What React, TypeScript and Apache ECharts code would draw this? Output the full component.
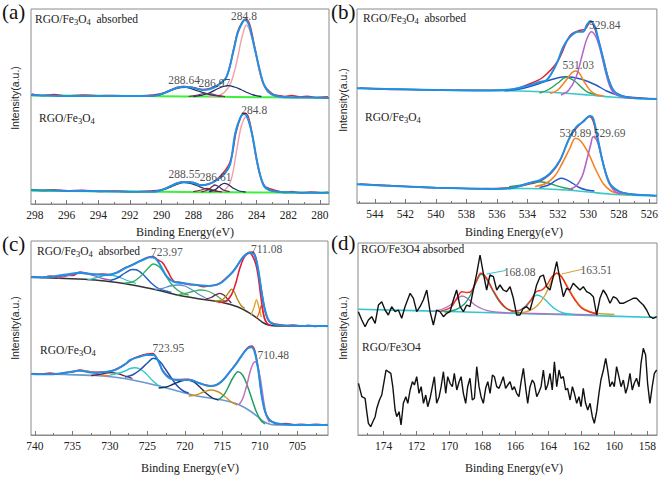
import React, { useEffect, useRef } from "react";
import * as echarts from "echarts";

type P = [number, number];

// ---------- tick labels ----------
const aTicks = [280, 282, 284, 286, 288, 290, 292, 294, 296, 298];
const aMinor = [281, 283, 285, 287, 289, 291, 293, 295, 297];
const bTicks = [526, 528, 530, 532, 534, 536, 538, 540, 542, 544];
const bMinor = [527, 529, 531, 533, 535, 537, 539, 541, 543, 545];
const cTicks = [705, 710, 715, 720, 725, 730, 735, 740];
const cMinor = [702.5, 707.5, 712.5, 717.5, 722.5, 727.5, 732.5, 737.5];
const dTicks = [158, 160, 162, 164, 166, 168, 170, 172, 174];
const dMinor = [159, 161, 163, 165, 167, 169, 171, 173, 175];

// ---------- (a) C 1s ----------
const aUpRaw: P[] = [[298.2,110],[297.5,108.5],[296.8,109.5],[296,108],[295,109],[294,108.3],[293,108.5],[292,107.8],[291,108.5],[290,110.5],[289,116.8],[288.6,117.5],[288,116.5],[287.4,114.5],[286.5,118.5],[285.9,127.5],[285.45,155],[285.2,172],[284.9,182],[284.7,185],[284.45,180],[284.1,155],[283.6,121],[283,110],[282.6,108.5],[282.2,107.5],[281.8,108.5],[281.2,107],[280.8,107.8],[280.3,106.5],[279.5,107.3]];
const aUpEnv: P[] = [[298.25,109],[296,108],[292,108],[290.5,108.3],[290,110],[289.5,113.3],[289,116.3],[288.64,117.3],[288.2,116.7],[287.8,115.3],[287.4,114],[287,114.7],[286.5,118],[286.3,120.7],[285.9,127],[285.45,154],[285.2,170.7],[284.95,180],[284.75,184],[284.5,180],[284.3,168],[284.1,154],[283.85,137],[283.57,120.7],[283.3,113],[282.94,109],[282.5,107.3],[282,106.7],[280,106.3],[279.43,105.9]];
const aUpMain: P[] = [[287,107.3],[286.3,109],[285.8,116],[285.5,127],[285.2,146],[285.0,162],[284.8,174],[284.65,179],[284.5,176],[284.25,163],[284.05,150],[283.8,132],[283.5,117],[283.1,109.5],[282.6,107],[282,106.6]];
const aUpC1: P[] = [[290.8,107.8],[290.2,108.8],[289.7,111.5],[289.2,114.8],[288.8,116.5],[288.5,116.6],[288.1,115.2],[287.7,113],[287.2,110.5],[286.7,108.6],[286.2,107.6]];
const aUpC2: P[] = [[288,107.5],[287.5,108.6],[287,111],[286.5,115],[286.1,117.5],[285.8,118.3],[285.4,117],[285,114.5],[284.6,111.5],[284.2,109],[283.7,107.5]];
const aUpC3: P[] = [[288.3,107.5],[287.8,108.6],[287.3,110.5],[286.9,110.2],[286.5,108.6],[286,107.4]];
const aUpBg: P[] = [[298.25,108.5],[292,108],[290,107.8],[287,107.4],[284,106.8],[282,106.5],[279.43,106.2]];

const aLowRaw: P[] = [[298.2,14.5],[297.5,13.5],[296.8,14.2],[296,13],[295,13.8],[294,12.6],[293,13],[292,12.2],[291,12.8],[290,14.3],[289,21],[288.5,22.3],[288,21.5],[287.5,19],[287,20.3],[286.5,24.5],[285.7,41],[285.3,72],[285.0,87],[284.8,91],[284.55,88],[284.3,71],[283.9,36],[283.5,18],[283,14.5],[282.6,12.8],[282.2,11.5],[281.8,12.5],[281.2,11],[280.6,12],[280,11.2],[279.5,11.8]];
const aLowEnv: P[] = [[298.25,14],[296,13.3],[292,12.3],[290.5,12.3],[290,14],[289.5,17.3],[289,20.7],[288.55,22],[288,21.3],[287.5,18.7],[287,20],[286.5,24],[286,30.7],[285.67,40],[285.35,70.7],[285.05,85.7],[284.8,90],[284.6,87.3],[284.3,70.7],[283.9,37.3],[283.57,19],[283.2,14],[282.5,12],[280,11.3],[279.43,11.3]];
const aLowMain: P[] = [[286.5,12],[286,14],[285.6,25],[285.3,50],[285,76],[284.8,85],[284.7,87],[284.55,85],[284.3,70],[283.9,37],[283.57,19],[283.2,13.5],[282.8,12]];
const aLowC1: P[] = [[290.6,12.5],[290,13.8],[289.5,16.5],[289,19.8],[288.6,21.3],[288.2,20.6],[287.8,18.5],[287.3,15.5],[286.8,13.3],[286.2,12.2]];
const aLowC2: P[] = [[287,12.2],[286.6,14.5],[286.3,18.5],[286.05,20.7],[285.8,19.5],[285.5,16],[285.1,13],[284.7,12]];
const aLowC3: P[] = [[287.5,12.2],[287.1,14],[286.8,17.5],[286.65,19],[286.4,17.5],[286.1,14],[285.7,12.3]];
const aLowC4: P[] = [[288,12.3],[287.5,14],[287.15,15.7],[286.8,14.2],[286.4,12.3]];
const aLowBg: P[] = [[298.25,13.2],[292,12.4],[290,12.2],[287,11.8],[284,11.5],[282,11.3],[279.43,11.2]];

const aPeakTexts = ["284.8", "288.64", "286.97", "284.8", "288.55", "286.61"];
const aPeakPos: P[] = [[284.8,188],[288.58,124.3],[286.67,120.7],[284.15,94],[288.56,30],[286.59,27.3]];

// ---------- (b) O 1s ----------
const bUpRaw: P[] = [[545,115],[543,113.5],[541,113.3],[539,112.8],[537,112.7],[535,113.5],[534,118.3],[533,125.5],[532,142],[531.2,167.5],[530.6,172.5],[530.2,174],[529.85,181.5],[529.4,166],[529,143],[528.6,121],[528.2,110],[527.6,106.5],[527,105.5],[526,104.3],[525.6,104]];
const bUpEnv: P[] = [[545.18,114.7],[542,113.7],[540,113],[537,112.5],[536,112.7],[535,113.7],[534.67,114.7],[533.8,118],[533.2,121],[532.72,123],[532.07,139.7],[531.64,156.3],[531.2,166.3],[530.66,171.3],[530.33,171.3],[530.1,178],[529.86,182],[529.57,176.3],[529.36,164.7],[529.03,144.7],[528.7,124.7],[528.38,113],[527.95,108],[527.3,105.3],[525.5,104]];
const bUpPurple: P[] = [[531.8,108],[531.3,112.5],[530.8,126],[530.4,148],[530.1,164],[529.8,171.3],[529.5,166],[529.2,152],[528.9,133],[528.6,117],[528.3,109.5],[527.8,106],[527.2,105]];
const bUpOrange: P[] = [[532.5,109.5],[532,113],[531.5,122],[531.1,130],[530.85,132],[530.6,130],[530.3,122],[529.9,113],[529.5,108.5],[529,107]];
const bUpGreen: P[] = [[533.2,110],[532.6,113.5],[532,120],[531.45,125.7],[530.9,122],[530.4,115],[530,110.5],[529.5,108.5]];
const bUpBlue: P[] = [[535.5,112.3],[534.5,114],[533.5,118],[532.5,123],[531.5,126.3],[530.5,124],[529.5,118],[528.8,112],[528,107.5],[527.3,105.5],[526.5,104.5]];
const bUpBg: P[] = [[545.18,114.7],[540,113],[536,112.3],[534,111.8],[532,110.3],[530,108],[528.5,106],[527,104.7],[525.5,104]];

const bLowRaw: P[] = [[545,19],[543,17.5],[541,15.8],[539,15],[537,14.2],[535,15.5],[534,18.5],[533,23],[532,38.5],[531.2,66],[530.5,79.5],[529.9,86.5],[529.4,64],[529,38],[528.5,17],[528,11.5],[527,8.5],[526,7.6],[525.6,7.2]];
const bLowEnv: P[] = [[545.18,18.7],[542,16.5],[540,15.3],[537,14.3],[536,14],[535,15],[534.67,16.3],[533.8,20.3],[533.15,23],[532.5,29.7],[531.85,43],[531.3,63],[530.77,76.3],[530.33,81.3],[529.9,87],[529.68,84.7],[529.36,63],[529.03,39.7],[528.6,19.7],[527.95,11.3],[527.3,9],[525.5,7.3]];
const bLowOrange: P[] = [[533.5,16.5],[532.8,19.5],[532.2,27],[531.7,40],[531.2,55],[530.85,64.7],[530.5,62],[530,50],[529.5,33],[529,19],[528.5,12],[528,9.5],[527.3,8.5]];
const bLowPurple: P[] = [[531.3,13.5],[530.8,17],[530.4,27],[530.1,43],[529.85,58],[529.68,66.3],[529.45,63],[529.2,50],[528.9,32],[528.6,18.5],[528.2,11],[527.8,9]];
const bLowBlue: P[] = [[533.2,15.5],[532.6,18],[532.15,22.3],[531.8,24.7],[531.45,23.3],[531,19.5],[530.6,15.5],[530.1,13],[529.6,12]];
const bLowGreen: P[] = [[535.2,16.2],[534.6,17.5],[534,19.3],[533.3,21.3],[532.7,20.3],[532.2,17.8],[531.6,15.2],[531,13.5]];
const bLowBg: P[] = [[545.18,18.7],[540,15.3],[536,14],[534.5,14.5],[533,14.3],[531.5,13],[530,11],[528.5,8.8],[527,7.8],[525.5,7.3]];

const bPeakTexts = ["529.84", "531.03", "530.89", "529.69"];
const bPeakPos: P[] = [[528.92,178],[530.66,138],[530.85,70.3],[528.6,70.3]];

// ---------- (c) Fe 2p ----------
const cUpRaw: P[] = [[740.3,158.5],[739,157.5],[738,159],[737,158],[736,160],[735,159.5],[734,163],[733,161.5],[732,160.5],[731,161],[730,160.5],[729,162.8],[728,167],[727,170],[726,174],[725,177.5],[724.3,178.5],[723.6,175],[723,172.5],[722.3,164],[721.5,154],[720.5,152.5],[719.5,150.5],[718.5,150],[717.5,148.3],[716.5,149.5],[715.5,151],[714.5,157],[713.5,164],[712.5,175],[711.5,182.5],[711,183],[710.6,179],[710.2,164],[709.8,145],[709.3,124],[708.8,114],[708.2,111.5],[707.5,110.5],[706.5,109.5],[705.5,110],[704.5,108.8],[703.5,109.6],[702.5,108.6],[701.5,109.3],[701,108.5]];
const cUpEnv: P[] = [[740.5,157.7],[738,158.3],[735.8,160.5],[734,162.3],[732.2,160.7],[730.4,160],[729.1,162.3],[727.8,167.5],[726.5,172],[725.5,175.5],[724.6,177.7],[724,177],[723.3,170],[722.4,158.3],[721.5,153.3],[720.2,151.7],[718.4,150],[716.7,149],[715.3,151.7],[714,160],[713.1,168.3],[712.2,178.3],[711.3,182.3],[710.7,180],[710.2,165],[709.8,145],[709.3,125],[708.7,113.3],[707.8,110],[706,109.3],[700.9,109]];
const cUpBg: P[] = [[740.5,157.7],[736,156.5],[732,155],[729,152.5],[727,150],[724,145.5],[721,140],[718,136],[715,132.5],[713,128.3],[711.3,121.7],[710.3,116.5],[709.5,112],[708.5,109.5],[707,109],[700.9,109]];
const cUpRed: P[] = [[715.5,132.5],[714.5,134],[713.8,140],[713.2,152],[712.7,166],[712.2,176],[711.7,181],[711.33,181.7],[710.9,178],[710.5,170],[710.2,158],[709.8,135],[709.4,117],[709,111.5],[708.5,109.5]];
const cUpOlive: P[] = [[716,134],[715.2,134.5],[714.6,138],[714.1,143],[713.78,145.7],[713.4,143],[713,136],[712.5,129.5],[712,126.5]];
const cUpMaroon: P[] = [[717.2,136],[716.5,137.5],[715.8,140.5],[715.33,141.7],[714.8,140],[714.3,136],[713.8,132]];
const cUpGreen1: P[] = [[721,140.2],[720,141.5],[719,143.5],[717.8,145],[716.8,143.5],[715.8,139.5],[715,135],[714.3,133.3]];
const cUpSky: P[] = [[724,145.5],[723,146.5],[722,149],[720.9,150],[720,149],[719,145],[718,140],[717.2,137]];
const cUpGreen2: P[] = [[728,152],[727,153],[726,158],[725,166],[724.2,171],[723.4,168],[722.6,160],[721.8,151],[721,145],[720.2,141.5],[719.5,140]];
const cUpBlue: P[] = [[730,154.5],[729,157],[728,162],[727,165.5],[726.5,165.2],[725.5,160],[724.5,152],[723.5,146.5],[722.5,144],[721.8,142.5]];
const cUpCyan: P[] = [[733,155],[732,157],[731,159],[730.3,160],[729.5,159.5],[728.5,157],[727.5,154],[726.5,151.5]];
const cUpPurple: P[] = [[737,157],[736,158.5],[735,160.5],[734,161.7],[733,161],[732,159],[731,156.5],[730,155]];
const cUpOrange1: P[] = [[711.2,119.5],[710.8,127],[710.44,135],[710.1,127],[709.8,118]];
const cUpOrange2: P[] = [[710.4,117],[710.1,122],[709.8,129],[709.5,121],[709.2,113]];

const cLowRaw: P[] = [[740.3,61.5],[739,61],[738,62],[737,61],[736,62.5],[735,63],[734,65],[733,63.5],[732,62.8],[731,63],[730,63.5],[729,66.5],[728,70.5],[727,76],[726,79],[725,81],[724.3,81.5],[723.6,75],[723,65],[722.3,59],[721.5,55.5],[720.5,55.5],[719.5,55.8],[718.5,53],[717.5,50.5],[716.5,49],[715.5,51],[714.5,58.5],[713.5,68],[712.5,78.5],[711.6,87.5],[711.1,89],[710.7,85],[710.2,66],[709.8,43],[709.3,24],[708.8,16],[708.2,12.5],[707.5,11],[706.5,11.5],[705.5,10.3],[704.5,10.8],[703.5,10.2],[702.5,10.8],[701.5,10.2],[701,10.5]];
const cLowEnv: P[] = [[740.5,61],[738,60.7],[735.8,62.3],[734,64.3],[732.2,62.3],[730.4,63.3],[729.1,65.7],[727.8,71.7],[727.3,75],[726,78.3],[725.1,80],[724.2,80],[723.5,73.3],[722.9,63.3],[722,56.7],[720.7,55],[719.3,55],[718,51.7],[716.7,49],[715.8,50],[714.9,55],[714,63.3],[713.1,71.7],[712.2,81.7],[711.6,86.7],[711.1,87.7],[710.7,83.3],[710.2,65],[709.8,41.7],[709.3,23.3],[708.7,15],[707.8,11.7],[706,10.3],[700.9,10]];
const cLowBg: P[] = [[740.5,61],[736,60.5],[732,59.5],[729,57.5],[727,55],[724,50],[721,44],[718,38.5],[715,35],[713,31],[711.5,25],[710.3,18.5],[709.5,13.5],[708.5,10.5],[707,10],[700.9,10]];
const cLowPurple: P[] = [[712.8,30],[712.3,36],[711.8,48],[711.3,63],[710.9,71.5],[710.6,73.3],[710.3,69],[709.9,55],[709.5,35],[709.1,19],[708.7,12.5]];
const cLowGreen: P[] = [[715.5,35.5],[714.8,40],[714.2,48],[713.6,57],[712.9,63.3],[712.3,60],[711.7,50],[711.1,37],[710.5,24],[709.9,15],[709.3,11]];
const cLowGold: P[] = [[719.5,39],[718.5,40],[717.5,43],[716.5,45],[715.5,43],[714.6,38],[713.8,33],[713,30]];
const cLowNavy: P[] = [[723.5,47],[722.5,48],[721.5,51],[720.5,54],[719.7,55],[718.8,53],[718,48],[717.2,42],[716.3,37],[715.5,35]];
const cLowBlue: P[] = [[728,58],[727,60],[726,65],[725,72],[724.2,76.7],[723.4,74],[722.6,66],[721.8,57],[721,49],[720.2,44],[719.5,42]];
const cLowCyan: P[] = [[730,60],[729,61.5],[728,64],[727.3,66.5],[726.7,67.3],[726,66],[725.2,61.5],[724.4,55],[723.6,50],[722.8,47.5]];
const cLowMaroon: P[] = [[732.5,59.5],[731.5,60.5],[730.5,62],[729.8,62.3],[729,61.5],[728,59],[727,56.5]];
const cLowOrange: P[] = [[737,61],[736,62],[735,63.5],[734,64.3],[733,64],[732,62],[731,60],[730,59]];

const cPeakTexts = ["711.08", "723.97", "723.95", "710.48"];
const cPeakPos: P[] = [[709.1,185.7],[722.4,183.3],[722.2,86.7],[708.2,80]];

// ---------- (d) S 2p ----------
const dUpRaw: P[] = [[175.53,123.3],[175.32,115],[175.12,108.3],[174.92,115],[174.72,118.3],[174.51,111.7],[174.31,130],[174.11,133.3],[173.91,125],[173.71,120],[173.51,128.3],[173.3,123.3],[173.1,125],[172.9,116.7],[172.7,128.3],[172.39,141.7],[172.19,136.7],[171.99,123.3],[171.79,128.3],[171.59,135],[171.38,145],[171.18,123.3],[170.98,110],[170.78,125],[170.58,123.3],[170.37,118.3],[170.17,121.7],[169.97,123.3],[169.77,135],[169.57,145],[169.36,128.3],[169.16,123.3],[168.96,130],[168.76,128.3],[168.56,145],[168.35,161.7],[168.15,180],[167.95,161.7],[167.75,145],[167.55,160],[167.34,158.3],[167.14,145],[166.94,150],[166.74,145],[166.54,143.3],[166.33,148.3],[166.13,136.7],[165.93,120],[165.73,120],[165.53,126.7],[165.32,128.3],[165.12,125],[164.92,136.7],[164.72,150],[164.51,158.3],[164.31,160],[164.11,148.3],[163.91,145],[163.71,158.3],[163.5,173.3],[163.3,155],[163.1,138.3],[162.9,146.7],[162.7,145],[162.5,151.7],[162.29,148.3],[162.09,145],[161.89,148.3],[161.69,143.3],[161.49,141.7],[161.28,138.3],[161.08,120],[160.88,136.7],[160.68,145],[160.48,140],[160.27,131.7],[160.07,138.3],[159.87,136.7],[159.67,131.7],[159.47,131.7],[159.26,133.3],[159.06,135],[158.86,136.7],[158.66,136.7],[158.46,133.3],[158.25,130],[158.05,125],[157.85,118.3],[157.65,116.7],[157.44,118.3]];
const dUpBg: P[] = [[175.55,125.7],[170,123.5],[166,121.6],[162,119.8],[157.42,117.5]];
const dUpPurple: P[] = [[171.2,123.3],[170.5,125.5],[170,129.5],[169.6,135],[169.25,139],[168.9,136.5],[168.5,130.5],[168,126],[167.4,123.3],[166.5,122.2],[164,121.2],[161,120]];
const dUpGreen: P[] = [[170.3,123],[169.6,125.5],[169.1,131],[168.7,141],[168.35,154],[168.08,160.7],[167.8,157],[167.4,145],[167,134],[166.6,127],[166.1,123],[165.5,121.6]];
const dUpRed: P[] = [[170.5,124],[169.9,128],[169.55,137],[169.25,143.3],[168.95,142.5],[168.7,143.5],[168.4,153],[168.1,161.7],[167.8,158],[167.4,146],[167,135],[166.6,127.5],[166.1,124],[165.5,126.5],[165.1,134],[164.75,143.3],[164.4,145],[164.1,150],[163.8,158],[163.5,161.7],[163.2,158],[162.8,146],[162.4,135],[162,127],[161.5,123],[161,121]];
const dUpCyan: P[] = [[166.3,121.5],[165.8,124],[165.4,129],[165,136],[164.7,140],[164.4,138],[164,132],[163.6,126],[163.1,122],[162.5,120.5]];
const dUpOrange: P[] = [[165.8,121.5],[165.2,124],[164.7,129],[164.2,140],[163.85,153],[163.5,161.7],[163.2,158],[162.8,147],[162.4,136],[162,128],[161.5,123.5],[161,121.5],[160,120.5]];
const dLowRaw: P[] = [[175.52,51.7],[175.32,38.3],[175.12,36.7],[175.02,23.3],[174.92,11.7],[174.78,8.3],[174.65,13.3],[174.51,18.3],[174.41,26.7],[174.25,35],[174.11,40],[173.97,53.3],[173.85,65],[173.71,63.3],[173.56,61.7],[173.44,48.3],[173.3,25],[173.2,18.3],[173.06,23.3],[172.94,10],[172.8,31.7],[172.65,38.3],[172.53,31.7],[172.39,45],[172.25,53.3],[172.13,50],[171.99,58.3],[171.85,41.7],[171.72,48.3],[171.58,31.7],[171.44,40],[171.32,28.3],[171.18,36.7],[171.04,48.3],[170.92,58.3],[170.78,31.7],[170.63,38.3],[170.51,48.3],[170.37,63.3],[170.23,41.7],[170.11,58.3],[169.97,51.7],[169.83,48.3],[169.71,61.7],[169.56,45],[169.42,53.3],[169.3,58.3],[169.16,41.7],[169.02,31.7],[168.9,48.3],[168.76,56.7],[168.62,35],[168.49,36.7],[168.35,68.3],[168.21,48.3],[168.09,38.3],[167.95,31.7],[167.81,46.7],[167.68,53.3],[167.54,41.7],[167.4,60],[167.28,58.3],[167.14,48.3],[167,46.7],[166.88,51.7],[166.74,58.3],[166.6,46.7],[166.47,50],[166.33,53.3],[166.19,45],[166.07,48.3],[165.93,41.7],[165.79,38.3],[165.66,53.3],[165.52,66.7],[165.38,46.7],[165.26,31.7],[165.12,48.3],[164.98,55],[164.86,51.7],[164.71,38.3],[164.57,43.3],[164.45,48.3],[164.31,65],[164.17,45],[164.05,50],[163.91,61.7],[163.77,45],[163.64,73.3],[163.5,48.3],[163.36,65],[163.24,56.7],[163.1,58.3],[162.96,45],[162.84,46.7],[162.69,35],[162.55,48.3],[162.43,41.7],[162.29,31.7],[162.15,38.3],[162.03,28.3],[161.89,46.7],[161.75,31.7],[161.62,25],[161.48,31.7],[161.34,18.3],[161.22,11.7],[161.08,23.3],[160.94,41.7],[160.82,55],[160.67,65],[160.53,76.7],[160.41,65],[160.27,48.3],[160.13,53.3],[160.01,48.3],[159.87,68.3],[159.73,58.3],[159.6,48.3],[159.46,55],[159.32,41.7],[159.2,48.3],[159.06,61.7],[158.92,45],[158.8,51.7],[158.66,56.7],[158.51,48.3],[158.39,71.7],[158.25,86.7],[158.11,80],[157.99,51.7],[157.85,31.7],[157.71,48.3],[157.58,61.7],[157.44,65]];

const dPeakTexts = ["168.08", "163.51"];
const dPeakPos: P[] = [[165.75,163.5],[161.1,165]];
const dLeaderCyan: P[] = [[166.6,164.5],[167.75,161]];
const dLeaderOrange: P[] = [[161.9,166],[163.2,161]];

// ---------- styling ----------
const SERIF = "Liberation Serif";
const SANS = "Liberation Sans";
const ENV = "#1e90e6";
const RAW = "#e8202a";

const panels = [
  { grid: { left: 31, top: 9, width: 298, height: 195 }, min: 279.43, max: 298.25, ticks: aTicks, minor: aMinor, ymax: 195 },
  { grid: { left: 357, top: 9, width: 300, height: 194 }, min: 525.5, max: 545.18, ticks: bTicks, minor: bMinor, ymax: 194 },
  { grid: { left: 31, top: 241, width: 297, height: 194 }, min: 700.9, max: 740.53, ticks: cTicks, minor: cMinor, ymax: 194 },
  { grid: { left: 358, top: 243, width: 299, height: 192 }, min: 157.42, max: 175.55, ticks: dTicks, minor: dMinor, ymax: 192 },
];

function line(data: P[], color: string, width: number, idx: number, z = 3, smooth: number | boolean = 0.35) {
  return {
    type: "line", data, xAxisIndex: idx * 2, yAxisIndex: idx, symbol: "none", showSymbol: false,
    smooth, lineStyle: { color, width }, z, silent: true,
  };
}

function labels(pos: P[], texts: string[], idx: number) {
  return {
    type: "scatter", xAxisIndex: idx * 2, yAxisIndex: idx, symbolSize: 0, silent: true, z: 10,
    data: pos.map((p, k) => ({ value: p, label: { formatter: texts[k] } })),
    label: { show: true, position: "inside", fontFamily: SERIF, fontSize: 11.5, color: "#222" },
  };
}

const subName = (abs: boolean) =>
  "{n|RGO/Fe}{s|3}{n|O}{s|4}" + (abs ? "{n|  absorbed}" : "");

function nameText(x: number, y: number, abs: boolean, sub = true) {
  return {
    type: "text", x, y, z: 20,
    style: sub
      ? {
          text: subName(abs), verticalAlign: "middle",
          rich: {
            n: { fontFamily: SERIF, fontSize: 11.5, fill: "#222" },
            s: { fontFamily: SERIF, fontSize: 8.5, fill: "#222", padding: [5, 0, 0, 0] },
          },
        }
      : { text: abs ? "RGO/Fe3O4 absorbed" : "RGO/Fe3O4", verticalAlign: "middle", fontFamily: SERIF, fontSize: 11.5, fill: "#222" },
  };
}

export default function App() {
  const ref = useRef<HTMLDivElement>(null);
  useEffect(() => {
    if (!ref.current) return;
    const chart = echarts.init(ref.current, undefined, { renderer: "svg" });
    const xAxis: any[] = [];
    const yAxis: any[] = [];
    panels.forEach((p, i) => {
      xAxis.push({
        type: "value", gridIndex: i, min: p.min, max: p.max, inverse: true, position: "bottom",
        axisLine: { show: true, lineStyle: { color: "#8a8a8a", width: 1 } },
        axisTick: { show: true, inside: true, length: 4, customValues: p.ticks, lineStyle: { color: "#777" } },
        axisLabel: { show: true, customValues: p.ticks, margin: 5, fontFamily: SERIF, fontSize: 11.5, color: "#222" },
        splitLine: { show: false },
      });
      xAxis.push({
        type: "value", gridIndex: i, min: p.min, max: p.max, inverse: true, position: "bottom", offset: 0,
        axisLine: { show: false },
        axisTick: { show: true, inside: true, length: 2, customValues: p.minor, lineStyle: { color: "#777" } },
        axisLabel: { show: false },
        splitLine: { show: false },
      });
      yAxis.push({ type: "value", gridIndex: i, min: 0, max: p.ymax, show: false });
    });

    const series: any[] = [
      // (a)
      line(aUpBg, "#3cf03c", 2, 0, 2),
      line(aUpRaw, RAW, 1.6, 0, 3),
      line(aUpMain, "#f2a0a8", 1.4, 0, 4),
      line(aUpC1, "#263a6a", 1.3, 0, 4),
      line(aUpC2, "#1c2f66", 1.3, 0, 4),
      line(aUpC3, "#7a2f5a", 1.2, 0, 4),
      line(aUpEnv, ENV, 2, 0, 5),
      line(aLowBg, "#3cf03c", 2, 0, 2),
      line(aLowRaw, RAW, 1.6, 0, 3),
      line(aLowMain, "#f2a0a8", 1.4, 0, 4),
      line(aLowC1, "#263a6a", 1.3, 0, 4),
      line(aLowC2, "#1c2f66", 1.3, 0, 4),
      line(aLowC3, "#6a2a5a", 1.3, 0, 4),
      line(aLowC4, "#8a2030", 1.2, 0, 4),
      line(aLowEnv, ENV, 2, 0, 5),
      labels(aPeakPos, aPeakTexts, 0),
      // (b)
      line(bUpBg, "#3cc8c8", 1.6, 1, 2),
      line(bUpRaw, RAW, 1.4, 1, 3),
      line(bUpBlue, "#2458c8", 1.4, 1, 4),
      line(bUpGreen, "#2ca05a", 1.4, 1, 4),
      line(bUpOrange, "#f5821f", 1.5, 1, 4),
      line(bUpPurple, "#b565c4", 1.5, 1, 4),
      line(bUpEnv, ENV, 2, 1, 5),
      line(bLowBg, "#3cc8c8", 1.6, 1, 2),
      line(bLowRaw, RAW, 1.4, 1, 3),
      line(bLowGreen, "#2ca05a", 1.4, 1, 4),
      line(bLowBlue, "#2458c8", 1.4, 1, 4),
      line(bLowOrange, "#f5821f", 1.6, 1, 4),
      line(bLowPurple, "#b565c4", 1.6, 1, 4),
      line(bLowEnv, ENV, 2, 1, 5),
      labels(bPeakPos, bPeakTexts, 1),
      // (c)
      line(cUpBg, "#333333", 1.5, 2, 2),
      line(cUpRaw, RAW, 1.6, 2, 3),
      line(cUpPurple, "#a060b0", 1.3, 2, 4),
      line(cUpCyan, "#30c0c8", 1.3, 2, 4),
      line(cUpBlue, "#2060c0", 1.4, 2, 4),
      line(cUpGreen2, "#30b060", 1.4, 2, 4),
      line(cUpSky, "#5a90d0", 1.3, 2, 4),
      line(cUpGreen1, "#40b060", 1.3, 2, 4),
      line(cUpMaroon, "#702050", 1.3, 2, 4),
      line(cUpOlive, "#b08c10", 1.4, 2, 4),
      line(cUpOrange1, "#e8a020", 1.3, 2, 4),
      line(cUpOrange2, "#ff6010", 1.3, 2, 4),
      line(cUpRed, "#e0203a", 1.6, 2, 4),
      line(cUpEnv, ENV, 2, 2, 5),
      line(cLowBg, "#6a98d0", 1.6, 2, 2),
      line(cLowRaw, RAW, 1.6, 2, 3),
      line(cLowOrange, "#e08030", 1.3, 2, 4),
      line(cLowMaroon, "#702040", 1.3, 2, 4),
      line(cLowCyan, "#30c8d0", 1.4, 2, 4),
      line(cLowBlue, "#2050b0", 1.5, 2, 4),
      line(cLowNavy, "#1a3060", 1.4, 2, 4),
      line(cLowGold, "#d09020", 1.4, 2, 4),
      line(cLowGreen, "#20a060", 1.5, 2, 4),
      line(cLowPurple, "#c070c0", 1.5, 2, 4),
      line(cLowEnv, ENV, 2, 2, 5),
      labels(cPeakPos, cPeakTexts, 2),
      // (d)
      line(dUpBg, "#30c8d0", 1.6, 3, 2),
      line(dUpPurple, "#b070c0", 1.3, 3, 3),
      line(dUpGreen, "#20a070", 1.4, 3, 3),
      line(dUpCyan, "#30c8d0", 1.4, 3, 3),
      line(dUpOrange, "#d8a030", 1.4, 3, 3),
      line(dUpRed, "#f03020", 1.4, 3, 4),
      line(dUpRaw, "#111111", 1.4, 3, 5, false),
      line(dLowRaw, "#111111", 1.4, 3, 5, false),
      line(dLeaderCyan, "#30c8d0", 1, 3, 6, false),
      line(dLeaderOrange, "#d8a030", 1, 3, 6, false),
      labels(dPeakPos, dPeakTexts, 3),
    ];

    const graphic: any[] = [
      { type: "text", x: 2, y: 1, style: { text: "(a)", fontFamily: SERIF, fontSize: 21, fill: "#111" } },
      { type: "text", x: 331, y: 1, style: { text: "(b)", fontFamily: SERIF, fontSize: 21, fill: "#111" } },
      { type: "text", x: 2, y: 233, style: { text: "(c)", fontFamily: SERIF, fontSize: 21, fill: "#111" } },
      { type: "text", x: 331, y: 232, style: { text: "(d)", fontFamily: SERIF, fontSize: 21, fill: "#111" } },
      nameText(35, 19, true),
      nameText(39, 118, false),
      nameText(363, 18, true),
      nameText(365, 117, false),
      nameText(37, 251, true),
      nameText(40, 350, false),
      nameText(361, 249, true, false),
      nameText(362, 347, false, false),
      ...[[15, 98], [343, 100], [15, 328], [343, 328]].map(([x, y]) => ({
        type: "text", x, y, rotation: Math.PI / 2,
        style: { text: "Intensity(a.u.)", align: "center", verticalAlign: "middle", fontFamily: SANS, fontSize: 10.5, fill: "#222" },
      })),
      ...[[185, 232], [514, 232], [190, 468], [514, 468]].map(([x, y]) => ({
        type: "text", x, y,
        style: { text: "Binding Energy(eV)", align: "center", verticalAlign: "middle", fontFamily: SERIF, fontSize: 12, fill: "#222" },
      })),
    ];

    chart.setOption({
      animation: false,
      backgroundColor: "#ffffff",
      grid: panels.map((p) => ({ ...p.grid, show: true, borderColor: "#8a8a8a", borderWidth: 1, backgroundColor: "transparent" })),
      xAxis,
      yAxis,
      series,
      graphic,
    });
    return () => chart.dispose();
  }, []);
  return <div ref={ref} style={{ position: "fixed", left: 0, top: 0, width: 661, height: 477 }} />;
}
